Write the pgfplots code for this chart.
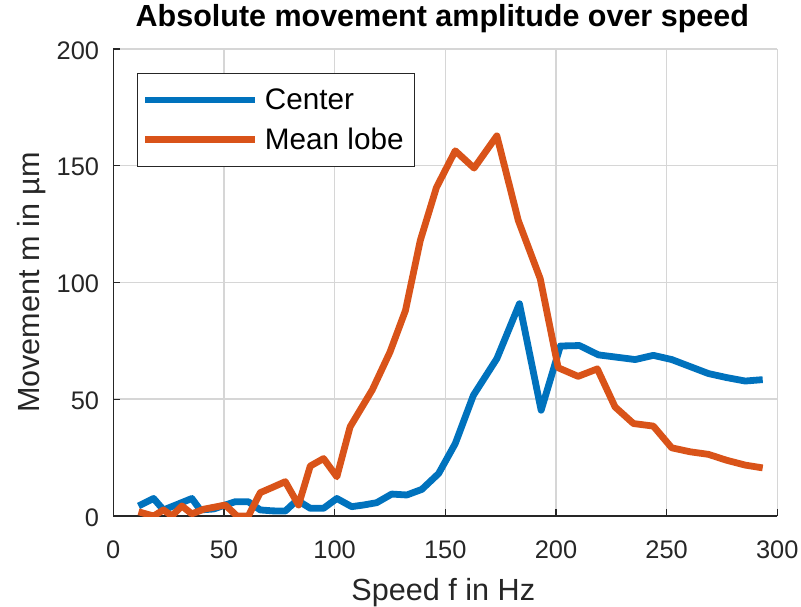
\documentclass[border=0pt]{standalone}
\usepackage{fontspec}
\setmainfont{Liberation Sans}
\usepackage{pgfplots}
\pgfplotsset{compat=1.18}
\definecolor{mblue}{rgb}{0,0.447,0.741}
\definecolor{morange}{rgb}{0.85,0.325,0.098}
\definecolor{axgray}{rgb}{0.15,0.15,0.15}
\definecolor{gridgray}{RGB}{214,214,214}
\begin{document}
\begin{tikzpicture}
\begin{axis}[
  scale only axis, width=664bp, height=467bp,
  xmin=0, xmax=300, ymin=0, ymax=200,
  xtick={0,50,...,300}, ytick={0,50,...,200},
  axis x line*=bottom, axis y line*=left,
  grid=major, major grid style={gridgray, line width=1.5bp},
  axis line style={axgray, line width=1.3bp, -},
  tick style={axgray, line width=1.3bp}, tick align=inside, major tick length=7bp,
  /pgf/number format/assume math mode=true,
  tick label style={font=\fontsize{25.5}{30}\selectfont, text=axgray},
  xticklabel style={anchor=base, inner sep=0pt, yshift=-42.3bp},
  yticklabel style={anchor=east, inner sep=0pt, xshift=-14bp, yshift=-1.5bp},
  xlabel={Speed f in Hz}, ylabel={Movement m in µm},
  label style={font=\fontsize{30.7}{36}\selectfont, text=axgray},
  xlabel style={at={(axis description cs:0.497,-0.1799)}, anchor=base},
  ylabel style={at={(axis description cs:-0.1224,0.5)}, anchor=center},
  title={Absolute movement amplitude over speed},
  title style={font=\bfseries\fontsize{30.6}{36}\selectfont, at={(axis description cs:0.4955,1.0358)}, anchor=base},
  legend cell align=left,
  legend style={at={(rel axis cs:0.0361,0.9479)}, anchor=north west,
    font=\fontsize{29.8}{35}\selectfont, draw=axgray, line width=1bp,
    inner xsep=4bp, inner ysep=13bp, row sep=13bp,
    nodes={inner xsep=6.5bp, inner ysep=2bp}},
  legend image code/.code={\draw[#1, line width=6.7bp] (0bp,0bp) -- (110bp,0bp);},
]
\addplot[mblue, line width=6.8bp, line join=round] coordinates {
(11.4,4.3)(18.2,7.5)(22.7,2.6)(29,5)(35.5,7.5)(39.3,2.6)(45.3,3)(55,6.1)(61,6.1)
(66.4,2.6)(72,2.2)(77.7,2.1)(83,6.8)(89,3.3)(95,3.3)(101,7.5)(107.7,4)(113,4.7)
(119,5.7)(125.8,9.4)(132.6,9)(139.4,11.4)(147,18.2)(154.5,31)(162.7,51.7)
(173.3,67.4)(183.5,90.9)(193.3,45.3)(202,72.8)(210.6,73)(219.2,69)(227.5,68)
(235.8,67)(244,68.8)(252.3,67)(260.6,64)(268.9,61)(277,59.3)(285.5,57.8)(293.4,58.4)
};
\addlegendentry{Center}
\addplot[morange, line width=6.8bp, line join=round] coordinates {
(11.4,1.8)(18.2,0)(22.7,2.6)(26.5,0)(31,4.3)(35.5,0.9)(40.8,2.9)(50.6,4.7)
(55.9,0)(61,0)(66.4,10)(72,12.3)(77.7,14.7)(83.7,4.7)(89,21.4)(95,24.6)(101,16.8)
(107,38.2)(117,54)(125,70.2)(132,88)(138.7,118)(146,140.7)(154.5,156.4)(163,149)
(173.3,162.8)(183,126.5)(192.9,101.6)(201,63.5)(210,59.8)(218.7,63)(226.7,46.7)
(235,39.6)(244,38.5)(252.3,29.2)(260.6,27.5)(268.9,26.4)(277,23.9)(285.5,21.8)(293.4,20.6)
};
\addlegendentry{Mean lobe}
\end{axis}
\pgfresetboundingbox
\path[use as bounding box] (current axis.south west) ++(-113.3bp,-91bp) rectangle ++(801bp,607bp);
\end{tikzpicture}
\end{document}
